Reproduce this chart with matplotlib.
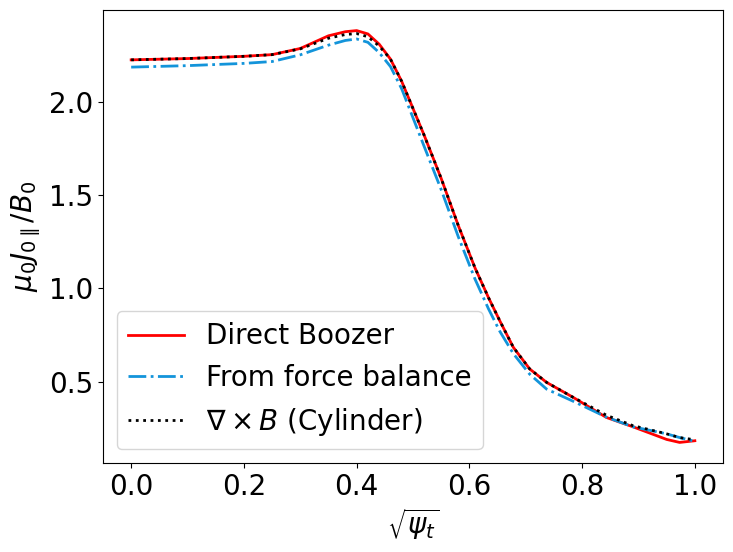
import numpy as np
import matplotlib
matplotlib.use('Agg')
import matplotlib.pyplot as plt

# sqrt(psi_t) grid
rho = [0, 0.1, 0.2, 0.25, 0.3, 0.35, 0.38, 0.40, 0.42, 0.44, 0.46, 0.48, 0.52,
       0.55, 0.58, 0.61, 0.634, 0.654, 0.678, 0.707, 0.737, 0.784, 0.843, 0.89,
       0.95, 0.973, 1.0]

j_boozer = [2.226, 2.233, 2.245, 2.254, 2.287, 2.355, 2.377, 2.383, 2.365, 2.31,
            2.23, 2.11, 1.82, 1.59, 1.34, 1.11, 0.95, 0.826, 0.684, 0.568, 0.496,
            0.416, 0.308, 0.258, 0.19, 0.174, 0.183]

j_force = [2.187, 2.195, 2.207, 2.217, 2.253, 2.305, 2.33, 2.338, 2.32, 2.265,
           2.19, 2.07, 1.76, 1.53, 1.28, 1.05, 0.89, 0.77, 0.65, 0.54, 0.46,
           0.395, 0.31, 0.258, 0.22, 0.20, 0.18]

j_curl = [2.226, 2.233, 2.245, 2.254, 2.285, 2.342, 2.362, 2.367, 2.35, 2.30,
          2.23, 2.11, 1.82, 1.59, 1.34, 1.11, 0.95, 0.826, 0.684, 0.568, 0.496,
          0.416, 0.32, 0.264, 0.22, 0.20, 0.188]


def main():
    fig = plt.figure(figsize=(7.33, 5.52), dpi=100)
    ax = fig.add_axes([0.1405, 0.1612, 0.8459, 0.8207])
    ax.plot(rho, j_boozer, color='red', lw=2, label='Direct Boozer')
    ax.plot(rho, j_force, color='#1394DA', lw=2, ls='-.', label='From force balance')
    ax.plot(rho, j_curl, color='black', lw=2, ls=':', label=r'$\nabla \times B$ (Cylinder)')
    ax.set_xlabel(r'$\sqrt{\psi_t}$', fontsize=20)
    ax.set_ylabel(r'$\mu_0 J_{0\parallel}/B_0$', fontsize=20)
    ax.tick_params(labelsize=20)
    ax.set_yticks([0.5, 1.0, 1.5, 2.0])
    ax.legend(loc='lower left', fontsize=20)
    fig.savefig('out.png', dpi=100)


if __name__ == '__main__':
    main()
